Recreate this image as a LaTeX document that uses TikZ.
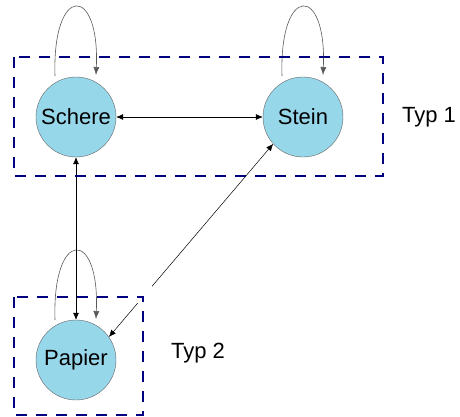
\documentclass[tikz,border=0pt]{standalone}
\usepackage{fontspec}
\setmainfont{Liberation Sans}
\usetikzlibrary{arrows.meta}
\definecolor{nodefill}{RGB}{151,215,234}
\definecolor{boxblue}{RGB}{0,0,128}
\begin{document}
\begin{tikzpicture}[x=1pt,y=-1pt,
  state/.style={circle,draw=gray!80!black,fill=nodefill,minimum size=80pt,inner sep=0pt,font=\fontsize{22}{26}\selectfont},
  grp/.style={draw=boxblue,line width=2.2pt,dash pattern=on 11pt off 9pt},
  bidir/.style={draw=black,line width=0.5pt,{Latex[length=7pt,width=6pt]}-{Latex[length=7pt,width=6pt]}},
  loopl/.style={draw=gray!70!black,line width=0.6pt,-{Latex[length=8pt,width=6pt]}},
  lbl/.style={font=\fontsize{22}{26}\selectfont,anchor=center}]
\useasboundingbox (0,0) rectangle (460,416);
\node[state] (schere) at (76,117) {Schere};
\node[state] (stein) at (303,117) {Stein};
\node[state] (papier) at (76,360) {Papier};
\coordinate (s1) at (55,76); \coordinate (s2) at (96,75);
\coordinate (t1) at (282,76); \coordinate (t2) at (323,75);
\coordinate (p1) at (55,320); \coordinate (p2) at (96,319);
\draw[loopl] (s1) .. controls (52,-16) and (100,-16) .. (s2);
\draw[loopl] (t1) .. controls (279,-16) and (327,-16) .. (t2);
\draw[loopl] (p1) .. controls (52,228) and (100,228) .. (p2);
\draw[bidir] (schere.east) -- (stein.west);
\draw[bidir] (schere.south) -- (papier.north);
\draw[bidir] (papier.35) -- (stein.222);
\fill[white] (144,294) circle (11pt);
\draw[grp] (14,57) rectangle (383,176);
\draw[grp] (14,297) rectangle (143,415);
\node[lbl] (typ1) at (429,117) {Typ 1};
\node[lbl] (typ2) at (198,353) {Typ 2};
\end{tikzpicture}
\end{document}
